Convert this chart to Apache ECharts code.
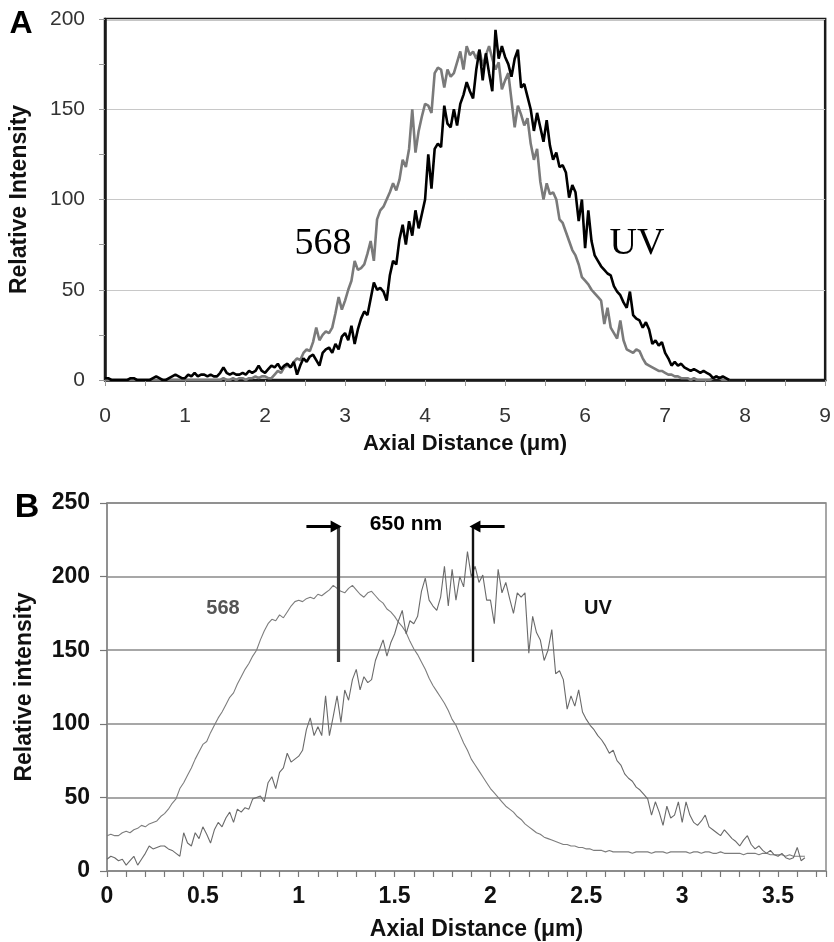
<!DOCTYPE html>
<html>
<head>
<meta charset="utf-8">
<script src="https://cdn.jsdelivr.net/npm/echarts@6.0.0/dist/echarts.min.js"></script>
<style>
html,body{margin:0;padding:0;background:#fff;}
#chart{width:834px;height:942px;}
</style>
</head>
<body>
<div id="chart"></div>
<script>
// ---------- Panel A data (x sampled every 0.04 µm from 0) ----------
const A_X_STEP = 0.04;
const A_568 = [
  0,0,0,0,0,0,0,0,0,0,0,0,0,0,0,0,0,0,0,0,0,0,0,0,0,
  0,0,0,0,0,0,0,0,0,0,0,0,1,0,0,1,0,1,1,0,1,1,2,1,2,
  2,1,1,3,5,4,7,8,7,10,12,11,15,17,16,21,29,22,25,27,26,29,37,46,39,
  44,50,55,66,61,62,64,70,77,66,89,94,96,100,104,109,105,111,122,118,128,150,126,138,146,
  153,152,148,170,173,172,162,172,168,170,176,182,172,185,180,182,178,183,174,180,185,178,172,176,161,
  166,170,155,140,152,147,141,145,131,122,128,110,100,109,103,104,100,89,87,82,77,72,69,64,57,
  55,53,50,48,46,44,31,40,29,26,23,33,22,17,16,15,17,16,12,9,8,7,6,5,5,
  4,3,3,2,2,1,1,1,0,1,0,0,0,0,0,1,2,1,0,0,0
];
const A_UV = [
  1,1,0,0,0,0,0,0,1,1,0,0,0,0,0,1,2,1,0,0,1,2,3,2,1,
  1,3,2,4,2,3,3,2,3,2,2,4,7,4,3,4,3,3,4,3,5,4,5,8,5,
  4,6,8,7,9,6,8,9,7,10,3,8,12,10,13,14,11,8,15,17,18,15,20,17,24,
  26,22,30,20,28,34,38,36,45,54,50,51,49,44,58,66,64,78,86,75,88,80,94,84,92,
  100,125,106,128,131,129,152,142,140,150,141,153,158,165,160,156,172,183,166,181,170,160,194,178,185,
  179,175,168,178,183,162,164,157,150,138,148,140,132,144,130,122,126,118,119,115,101,108,104,88,100,
  73,94,77,69,66,63,61,59,58,52,49,47,43,40,49,36,34,33,29,32,28,20,22,19,21,
  15,12,8,10,8,9,7,6,5,6,5,4,5,4,3,1,2,1,2,1,0
];
const A_X_TICKS = {min: 0, max: 9, step: 1};
const A_Y_TICKS = {min: 0, max: 200, step: 50};

// ---------- Panel B data (x sampled every 0.02 µm from 0) ----------
const B_X_STEP = 0.02;
const B_568 = [
  24,25,24,24,26,27,26,28,29,31,30,32,33,34,37,39,42,46,49,56,60,65,70,76,81,
  86,88,94,99,104,108,113,118,121,127,132,137,141,146,150,157,163,168,171,170,174,172,176,180,183,
  184,183,185,186,185,188,187,189,191,194,192,190,189,192,194,191,188,186,189,190,187,184,182,178,176,
  173,169,166,162,156,151,147,142,137,131,126,122,118,114,109,103,99,93,87,82,76,72,68,64,60,
  56,53,50,47,44,42,40,37,35,32,30,28,26,25,23,22,21,20,19,18,18,17,17,16,16,
  15,15,14,14,14,13,14,13,13,13,13,13,12,13,13,13,13,12,13,13,13,12,13,13,13,
  13,13,12,13,13,12,13,13,12,12,13,12,12,12,12,12,11,12,12,12,11,12,12,11,11,
  11,11,10,11,10,10,10,10
];
const B_UV = [
  8,10,9,7,8,4,7,10,4,8,12,17,15,16,17,17,15,14,12,10,26,19,17,26,22,
  30,25,19,28,33,30,36,40,33,42,40,43,42,49,50,51,47,60,64,56,67,70,80,74,76,
  78,82,96,104,92,98,92,119,92,105,119,101,123,116,130,137,123,132,128,130,143,150,157,146,155,
  161,170,177,161,170,168,173,190,199,184,180,177,186,207,180,205,184,200,193,217,200,207,196,201,184,
  184,168,205,189,196,185,175,189,186,189,148,173,162,157,143,150,164,134,136,130,110,119,112,123,108,
  103,99,96,92,89,85,80,82,75,72,66,63,61,57,55,52,49,38,47,40,31,44,36,38,47,
  33,47,38,33,31,34,38,30,28,26,24,28,25,22,20,17,21,24,18,15,17,14,12,14,11,
  10,12,9,8,9,16,7,9
];
const B_X_TICKS = {min: 0, max: 3.75, step: 0.1, labelStep: 0.5};
const B_Y_TICKS = {min: 0, max: 250, step: 50};

// annotation (data units of panel B)
const PEAK_568_X = 1.205;
const PEAK_UV_X = 1.909;
const MARK_LOW = 142;
const MARK_HIGH = 234;
const ARROW_LEN = 0.165;

function toPairs(vals, step) {
  return vals.map((v, i) => [Math.round(i * step * 1000) / 1000, v]);
}

const SANS = '"Liberation Sans", Arial, Helvetica, sans-serif';
const SERIF = '"Liberation Serif", "Times New Roman", serif';

const chart = echarts.init(document.getElementById('chart'), null, {renderer: 'canvas'});

const option = {
  animation: false,
  backgroundColor: '#ffffff',
  grid: [
    {left: 102, top: 19, width: 725, height: 361, show: true, borderColor: '#1a1a1a', borderWidth: 2.5, backgroundColor: 'transparent', containLabel: false},
    {left: 107, top: 503, width: 719, height: 369, show: true, borderColor: '#8a8a8a', borderWidth: 1.5, backgroundColor: 'transparent', containLabel: false}
  ],
  xAxis: [
    {
      gridIndex: 0, type: 'value', min: A_X_TICKS.min, max: A_X_TICKS.max, interval: A_X_TICKS.step,
      axisLine: {show: true, onZero: false, lineStyle: {color: '#1a1a1a', width: 2.5}},
      axisTick: {show: true, length: 6, lineStyle: {color: '#9a9a9a', width: 1}},
      minorTick: {show: true, splitNumber: 2, length: 6, lineStyle: {color: '#9a9a9a', width: 1}},
      axisLabel: {margin: 26, fontSize: 21, color: '#333', fontFamily: SANS},
      splitLine: {show: false}, minorSplitLine: {show: false},
      name: 'Axial Distance (\u03bcm)', nameLocation: 'middle', nameGap: 53,
      nameTextStyle: {fontSize: 22, fontWeight: 'bold', color: '#111', fontFamily: SANS}
    },
    {
      gridIndex: 1, type: 'value', min: B_X_TICKS.min, max: B_X_TICKS.max, interval: B_X_TICKS.step,
      axisLine: {show: true, onZero: false, lineStyle: {color: '#8a8a8a', width: 1.5}},
      axisTick: {show: true, length: 6, lineStyle: {color: '#777', width: 1.2}},
      axisLabel: {
        margin: 14, fontSize: 23, fontWeight: 'bold', color: '#111', fontFamily: SANS,
        formatter: function (v) {
          const k = Math.round(v / B_X_TICKS.step);
          const per = Math.round(B_X_TICKS.labelStep / B_X_TICKS.step);
          if (Math.abs(v / B_X_TICKS.step - k) > 1e-6) return '';
          return k % per === 0 ? String(Math.round(v * 10) / 10) : '';
        }
      },
      splitLine: {show: false},
      name: 'Axial Distance (\u03bcm)', nameLocation: 'middle', nameGap: 47,
      nameTextStyle: {fontSize: 23, fontWeight: 'bold', color: '#111', fontFamily: SANS, padding: [0, 0, 0, 20]}
    }
  ],
  yAxis: [
    {
      gridIndex: 0, type: 'value', min: A_Y_TICKS.min, max: A_Y_TICKS.max, interval: A_Y_TICKS.step,
      axisLine: {show: true, lineStyle: {color: '#1a1a1a', width: 2.5}},
      axisTick: {show: true, length: 6, lineStyle: {color: '#9a9a9a', width: 1}},
      minorTick: {show: true, splitNumber: 2, length: 6, lineStyle: {color: '#9a9a9a', width: 1}},
      axisLabel: {margin: 20, fontSize: 21, color: '#333', fontFamily: SANS},
      splitLine: {show: true, lineStyle: {color: '#c8c8c8', width: 1}},
      minorSplitLine: {show: false},
      name: 'Relative Intensity', nameLocation: 'middle', nameRotate: 90, nameGap: 74,
      nameTextStyle: {fontSize: 23, fontWeight: 'bold', color: '#111', fontFamily: SANS}
    },
    {
      gridIndex: 1, type: 'value', min: B_Y_TICKS.min, max: B_Y_TICKS.max, interval: B_Y_TICKS.step,
      axisLine: {show: true, lineStyle: {color: '#8a8a8a', width: 1.5}},
      axisTick: {show: true, length: 7, lineStyle: {color: '#777', width: 1.2}},
      axisLabel: {margin: 17, fontSize: 23, fontWeight: 'bold', color: '#111', fontFamily: SANS},
      splitLine: {show: true, lineStyle: {color: '#8a8a8a', width: 1.5}},
      name: 'Relative intensity', nameLocation: 'middle', nameRotate: 90, nameGap: 71,
      nameTextStyle: {fontSize: 23, fontWeight: 'bold', color: '#111', fontFamily: SANS}
    }
  ],
  series: [
    {
      name: '568 A', type: 'line', xAxisIndex: 0, yAxisIndex: 0, data: toPairs(A_568, A_X_STEP),
      showSymbol: false, symbol: 'none', lineStyle: {color: '#7a7a7a', width: 2.6}, z: 3
    },
    {
      name: 'UV A', type: 'line', xAxisIndex: 0, yAxisIndex: 0, data: toPairs(A_UV, A_X_STEP),
      showSymbol: false, symbol: 'none', lineStyle: {color: '#000', width: 2.6}, z: 4
    },
    {
      name: '568 B', type: 'line', xAxisIndex: 1, yAxisIndex: 1, data: toPairs(B_568, B_X_STEP),
      showSymbol: false, symbol: 'none', lineStyle: {color: '#7d7d7d', width: 1.1}, z: 3
    },
    {
      name: 'UV B', type: 'line', xAxisIndex: 1, yAxisIndex: 1, data: toPairs(B_UV, B_X_STEP),
      showSymbol: false, symbol: 'none', lineStyle: {color: '#6a6a6a', width: 1.1}, z: 4,
      markLine: {
        silent: true, animation: false,
        label: {show: false},
        data: [
          [{coord: [PEAK_568_X, MARK_LOW], symbol: 'none', lineStyle: {color: '#3a3a3a', width: 3.2, type: 'solid'}},
           {coord: [PEAK_568_X, MARK_HIGH], symbol: 'none'}],
          [{coord: [PEAK_UV_X, MARK_LOW], symbol: 'none', lineStyle: {color: '#111', width: 2.4, type: 'solid'}},
           {coord: [PEAK_UV_X, MARK_HIGH], symbol: 'none'}],
          [{coord: [PEAK_568_X - ARROW_LEN, MARK_HIGH], symbol: 'none', lineStyle: {color: '#000', width: 3, type: 'solid'}},
           {coord: [PEAK_568_X - 0.01, MARK_HIGH], symbol: 'triangle', symbolSize: [12, 11], symbolRotate: -90}],
          [{coord: [PEAK_UV_X + ARROW_LEN, MARK_HIGH], symbol: 'none', lineStyle: {color: '#000', width: 3, type: 'solid'}},
           {coord: [PEAK_UV_X + 0.01, MARK_HIGH], symbol: 'triangle', symbolSize: [12, 11], symbolRotate: 90}]
        ]
      }
    }
  ],
  graphic: [
    {type: 'text', x: 21, y: 24, style: {text: 'A', font: 'bold 32px ' + SANS, fill: '#000', align: 'center', verticalAlign: 'middle', textAlign: 'center', textVerticalAlign: 'middle'}},
    {type: 'text', x: 27, y: 508, style: {text: 'B', font: 'bold 34px ' + SANS, fill: '#000', align: 'center', verticalAlign: 'middle', textAlign: 'center', textVerticalAlign: 'middle'}},
    {type: 'text', x: 323, y: 244, style: {text: '568', font: '38px ' + SERIF, fill: '#000', align: 'center', verticalAlign: 'middle', textAlign: 'center', textVerticalAlign: 'middle'}},
    {type: 'text', x: 637, y: 244, style: {text: 'UV', font: '38px ' + SERIF, fill: '#000', align: 'center', verticalAlign: 'middle', textAlign: 'center', textVerticalAlign: 'middle'}},
    {type: 'text', x: 406, y: 524, style: {text: '650 nm', font: 'bold 21px ' + SANS, fill: '#000', align: 'center', verticalAlign: 'middle', textAlign: 'center', textVerticalAlign: 'middle'}},
    {type: 'text', x: 223, y: 608, style: {text: '568', font: 'bold 20px ' + SANS, fill: '#555', align: 'center', verticalAlign: 'middle', textAlign: 'center', textVerticalAlign: 'middle'}},
    {type: 'text', x: 598, y: 608, style: {text: 'UV', font: 'bold 20px ' + SANS, fill: '#111', align: 'center', verticalAlign: 'middle', textAlign: 'center', textVerticalAlign: 'middle'}}
  ]
};
chart.setOption(option);
</script>
</body>
</html>
